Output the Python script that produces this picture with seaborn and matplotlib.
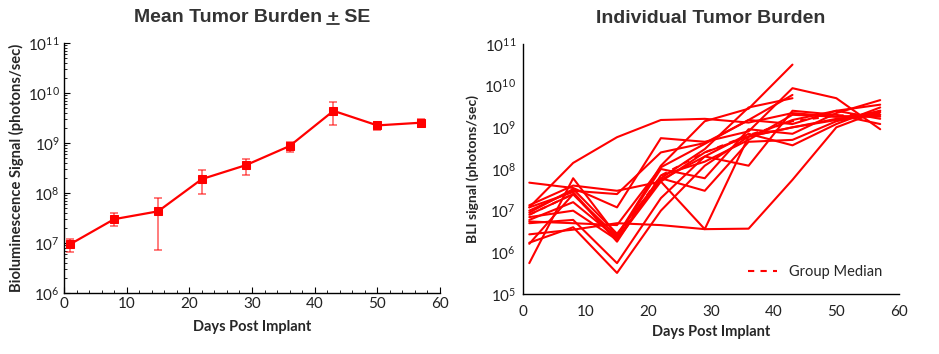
import numpy as np
import pandas as pd
import matplotlib
matplotlib.use("Agg")
import matplotlib.pyplot as plt
from matplotlib.lines import Line2D
from matplotlib.ticker import LogLocator, MultipleLocator, NullFormatter
import seaborn as sns

sns.set_theme(style="white")
plt.rcParams["font.family"] = ["Lato", "DejaVu Sans"]
plt.rcParams["mathtext.default"] = "regular"

# Days of imaging
days = [1, 8, 15, 22, 29, 36, 43, 50, 57]

# Left panel: mean BLI signal and SE bounds (photons/sec)
mean_signal = [9.5e6, 3.0e7, 4.3e7, 1.9e8, 3.6e8, 8.7e8, 4.4e9, 2.25e9, 2.55e9]
se_upper = [1.23e7, 3.9e7, 7.9e7, 2.9e8, 4.7e8, 1.05e9, 6.5e9, 2.6e9, 2.97e9]
se_lower = [6.6e6, 2.15e7, 7.1e6, 9.4e7, 2.3e8, 6.7e8, 2.25e9, 1.85e9, 2.06e9]

# Right panel: individual mice (nan = no measurement)
nan = np.nan
mouse_signal = [
    [1.2e7, 1.4e8, 5.8e8, 1.5e9, 1.6e9, 1.3e9, 2.2e9, 1.8e9, 2.0e9],
    [5.5e5, 6.0e7, 2.5e6, 1.2e8, 1.4e9, 2.8e9, 3.2e10, nan, nan],
    [1.0e7, 3.0e7, 2.5e7, 2.5e8, 4.2e8, 1.5e9, 6.0e9, nan, nan],
    [8.0e6, 2.5e7, 2.0e6, 6.0e7, 3.0e8, 3.0e9, 5.0e9, nan, nan],
    [2.7e6, 3.5e6, 5.0e6, 4.5e6, 3.6e6, 3.7e6, 5.5e7, 1.0e9, 2.5e9],
    [4.7e7, 3.5e7, 1.2e7, 5.5e8, 4.5e8, 8.0e8, 8.7e9, 5.0e9, 9.0e8],
    [1.35e7, 4.0e7, 3.0e7, 5.0e7, 3.6e6, 6.0e8, 1.0e9, 1.6e9, 2.0e9],
    [1.7e6, 4.0e6, 3.2e5, 1.0e7, 1.2e8, 6.0e8, 1.0e9, 1.5e9, 2.5e9],
    [5.0e6, 6.0e6, 5.5e5, 2.0e7, 2.0e8, 7.0e8, 3.7e8, 1.2e9, 3.0e9],
    [6.0e6, 1.6e7, 2.2e6, 5.5e7, 2.0e8, 1.2e8, 2.5e9, 2.0e9, 1.2e9],
    [9.0e6, 3.3e7, 2.8e6, 6.0e7, 3.0e7, 4.5e8, 5.0e8, 1.4e9, 2.3e9],
    [7.0e6, 1.0e7, 2.0e6, 5.0e7, 2.5e8, 6.0e8, 1.5e9, 2.5e9, 3.5e9],
    [1.2e7, 2.8e7, 1.8e6, 7.0e7, 1.5e8, 5.0e8, 2.0e9, 1.8e9, 1.8e9],
    [1.6e6, 2.5e7, 2.4e6, 1.0e8, 6.0e7, 9.0e8, 7.0e8, 2.2e9, 4.5e9],
    [5.5e6, 5.0e6, 4.5e6, 1.1e8, 4.0e8, 1.5e9, 1.2e9, 2.5e9, 1.6e9],
]
median_signal = [8.0e6, 2.5e7, 2.2e6, 7.0e7, 2.5e8, 6.5e8, 1.4e9, 1.9e9, 2.2e9]

RED = "#ff0000"
TITLE_COLOR = "#333333"
TITLE_FONT = ["Liberation Sans", "DejaVu Sans"]

mean_df = pd.DataFrame({"day": days, "signal": mean_signal})
rows = []
for i, series in enumerate(mouse_signal):
    for d, v in zip(days, series):
        if not np.isnan(v):
            rows.append({"mouse": i, "day": d, "signal": v})
ind_df = pd.DataFrame(rows)
med_df = pd.DataFrame({"day": days, "signal": median_signal})

fig = plt.figure(figsize=(9.39, 3.54), dpi=100)
ax1 = fig.add_axes([0.0682, 0.1723, 0.4004, 0.7062])
ax2 = fig.add_axes([0.5570, 0.1695, 0.4004, 0.7062])

# ---- left: mean +/- SE
yerr = [np.array(mean_signal) - np.array(se_lower), np.array(se_upper) - np.array(mean_signal)]
ax1.errorbar(days, mean_signal, yerr=yerr, fmt="none", ecolor=RED, alpha=0.6,
             elinewidth=1.2, capsize=3, capthick=1.2, zorder=2)
sns.lineplot(data=mean_df, x="day", y="signal", ax=ax1, color=RED, lw=1.6,
             marker="s", markersize=6, markeredgecolor=RED, zorder=3)
ax1.set_yscale("log")
ax1.set_ylim(1e6, 1e11)
ax1.set_xlim(0, 60)
ax1.xaxis.set_major_locator(MultipleLocator(10))
ax1.xaxis.set_minor_locator(MultipleLocator(2))
ax1.yaxis.set_major_locator(LogLocator(base=10, numticks=10))
ax1.yaxis.set_minor_locator(LogLocator(base=10, subs=np.arange(2, 10), numticks=10))
ax1.yaxis.set_minor_formatter(NullFormatter())
ax1.tick_params(which="major", direction="in", length=4, width=0.8, color="black",
                labelsize=11, labelcolor="#222222", pad=3)
ax1.tick_params(which="minor", direction="in", length=2, width=0.6, color="black")
ax1.tick_params(axis="x", which="both", bottom=True)
ax1.tick_params(axis="y", which="both", left=True)
ax1.set_xlabel("Days Post Implant", fontsize=10.5, fontweight="bold", labelpad=6)
ax1.set_ylabel("Bioluminescence Signal (photons/sec)", fontsize=10.6, fontweight="bold", labelpad=3)
ax1.set_title("Mean Tumor Burden + SE", fontsize=14, fontweight="bold", color=TITLE_COLOR,
              family=TITLE_FONT, pad=15)

# ---- right: individual mice
sns.lineplot(data=ind_df, x="day", y="signal", units="mouse", estimator=None, ax=ax2,
             color=RED, lw=1.5, legend=False)
sns.lineplot(data=med_df, x="day", y="signal", ax=ax2, color=RED, lw=1.5,
             linestyle=(0, (3, 3)), legend=False)
ax2.set_yscale("log")
ax2.set_ylim(1e5, 1e11)
ax2.set_xlim(0, 60)
ax2.xaxis.set_major_locator(MultipleLocator(10))
ax2.yaxis.set_major_locator(LogLocator(base=10, numticks=10))
ax2.yaxis.set_minor_locator(plt.NullLocator())
ax2.tick_params(which="both", length=0, labelsize=11, labelcolor="#222222", pad=5)
ax2.tick_params(axis="x", pad=8)
ax2.set_xlabel("Days Post Implant", fontsize=10.5, fontweight="bold", labelpad=4)
ax2.set_ylabel("BLI signal (photons/sec)", fontsize=10, fontweight="bold", labelpad=4)
ax2.set_title("Individual Tumor Burden", fontsize=14, fontweight="bold", color=TITLE_COLOR,
              family=TITLE_FONT, pad=15)
handle = Line2D([], [], color=RED, lw=1.5, linestyle=(0, (3, 3)))
ax2.legend([handle], ["Group Median"], loc="center right", frameon=False, fontsize=10.5,
           handlelength=2.0, borderaxespad=0, bbox_to_anchor=(0.97, 0.088))

for ax in (ax1, ax2):
    for side in ("top", "right"):
        ax.spines[side].set_visible(False)
    for side in ("left", "bottom"):
        ax.spines[side].set_color("black")
        ax.spines[side].set_linewidth(1.0)
    ax.grid(False)

# underline the "+" in the left title (stands for +/-)
fig.canvas.draw()
renderer = fig.canvas.get_renderer()
bbox = ax1.title.get_window_extent(renderer)
probe = fig.text(0, 0, "Mean Tumor Burden ", fontsize=14, fontweight="bold", family=TITLE_FONT)
w_pre = probe.get_window_extent(renderer).width
probe.set_text("+")
w_plus = probe.get_window_extent(renderer).width
probe.remove()
x0 = (bbox.x0 + w_pre) / fig.bbox.width
x1 = (bbox.x0 + w_pre + w_plus) / fig.bbox.width
yline = (bbox.y0 + 2) / fig.bbox.height
fig.add_artist(Line2D([x0, x1], [yline, yline], color=TITLE_COLOR, lw=1.3,
                      transform=fig.transFigure))

fig.savefig("out.png", dpi=100)
